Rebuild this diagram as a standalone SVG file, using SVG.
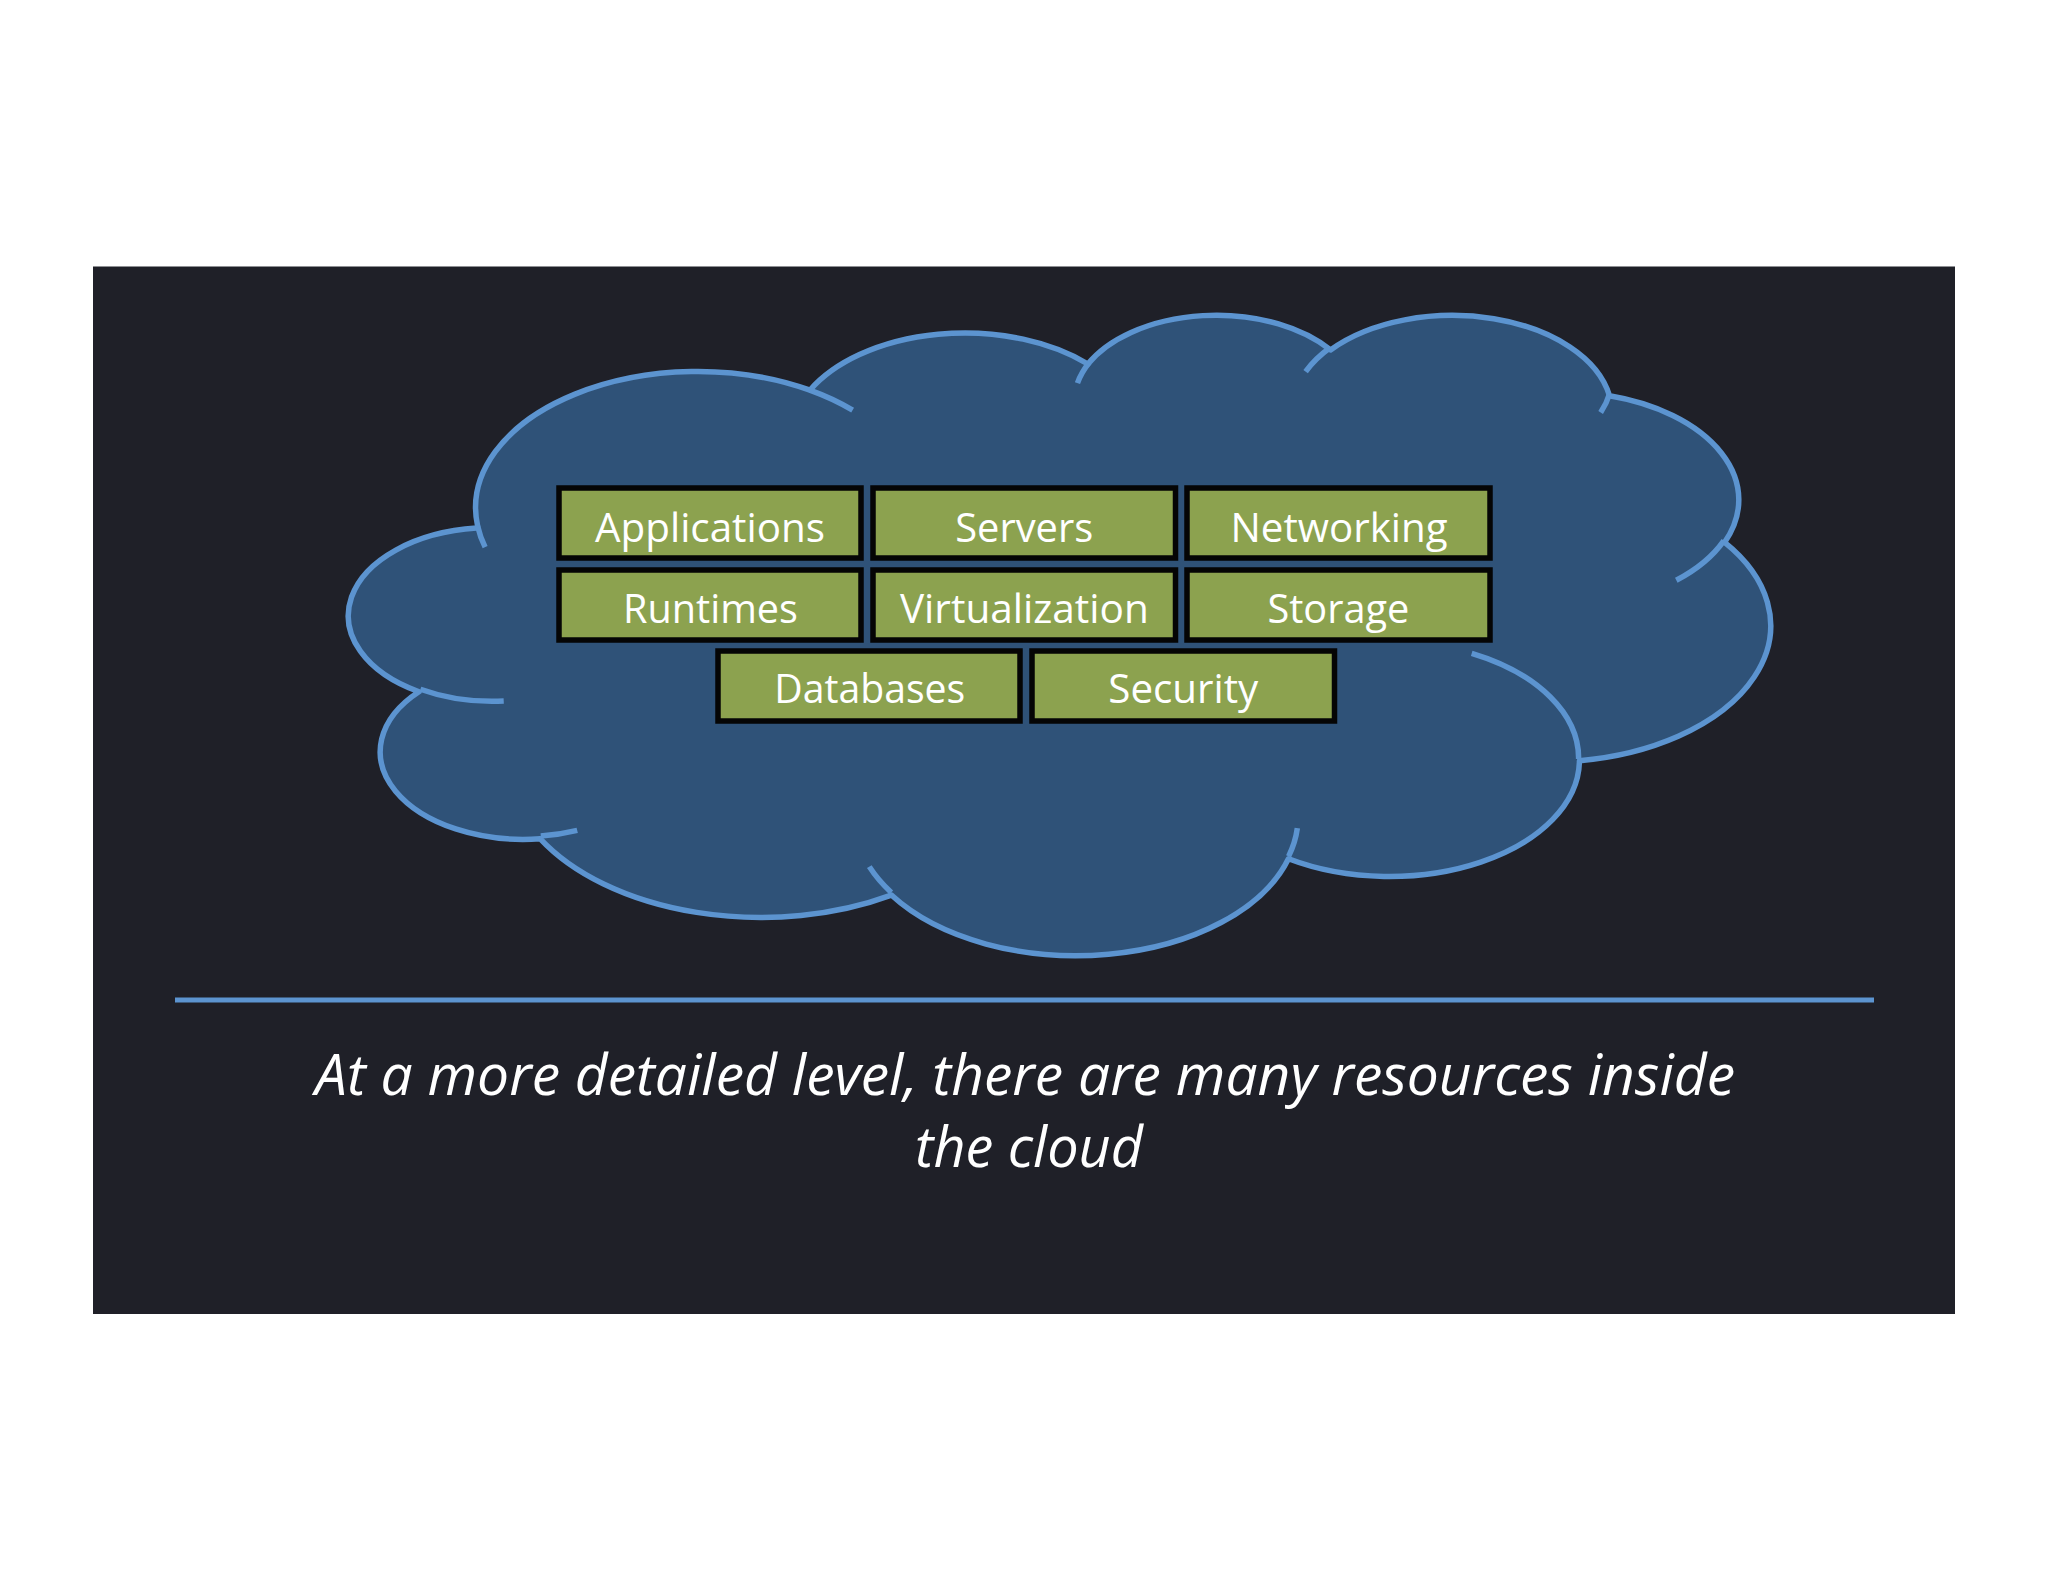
<svg xmlns="http://www.w3.org/2000/svg" width="2048" height="1582" viewBox="0 0 2048 1582">
  <style>
    .box rect { fill: #8CA24F; stroke: #050505; stroke-width: 5.5; }
    .box text { font-family: "Open Sans", "Lato", "Liberation Sans", sans-serif; font-size: 40px; fill: #FFFFFF; text-anchor: middle; }
    .cloudline { fill: none; stroke: #5C94D0; stroke-width: 5.5; stroke-linejoin: round; }
    .caption { font-family: "Open Sans", "Lato", "Liberation Sans", sans-serif; font-style: italic; font-size: 56px; fill: #FFFFFF; text-anchor: middle; }
  </style>
  <rect x="0" y="0" width="2048" height="1582" fill="#FFFFFF"/>
  <rect id="panel" x="93" y="266.5" width="1862" height="1047.5" fill="#1F2028"/>

  <g id="cloud" transform="translate(349.4,313.1) scale(0.032884,0.01482)">
    <path fill="#2F5278" stroke="#5C94D0" stroke-width="5.5" vector-effect="non-scaling-stroke" stroke-linejoin="round"
      d="M 3900 14370
         A 6753 9190 0 0 1 14004.7 5201.2
         A 5333 7267 0 0 1 22457.9 3434.5
         A 4365 5945 0 0 1 29835.4 2485.3
         A 4857 6595 0 0 1 38319.8 5581.9
         A 5333 7273 0 0 1 41820.2 15465.8
         A 6775 9220 0 0 1 37405.5 30207.5
         A 5785 7867 0 0 1 28556.8 36817.4
         A 6752 9215 0 0 1 16481.1 39269.1
         A 7720 10543 0 0 1 5804.8 35472.2
         A 4360 5918 0 0 1 2115.0 25548.6
         A 4345 5945 0 0 1 3865.6 14505.6 Z"/>
    <path class="cloudline" vector-effect="non-scaling-stroke"
      d="M 4693 26177 A 4345 5945 0 0 1 2159.1 25379.4
         M 6928 34899 A 4360 5918 0 0 1 5818.9 35280.8
         M 16478 39090 A 6752 9215 0 0 1 15810.3 37350.5
         M 28827 34751 A 6752 9215 0 0 1 28560.5 36659.3
         M 34129 22954 A 5785 7867 0 0 1 37380.1 30089.4
         M 41798 15354 A 5333 7273 0 0 1 40350.5 18029.3
         M 38324 5426 A 4857 6595 0 0 1 38051.1 6715.0
         M 29078 3952 A 4857 6595 0 0 1 29820.7 2338.2
         M 22141 4720 A 4365 5945 0 0 1 22500.5 3329.2
         M 14000 5192 A 6753 9190 0 0 1 15303.1 6544.5
         M 4127 15789 A 6753 9190 0 0 1 3900.1 14370.4"/>
  </g>

  <g id="connectors"></g>

  <g id="applications" class="box">
    <rect x="559" y="488" width="302" height="70"/>
    <text x="710" y="541.7" textLength="230" lengthAdjust="spacingAndGlyphs">Applications</text>
  </g>
  <g id="servers" class="box">
    <rect x="873" y="488" width="302.5" height="70"/>
    <text x="1024.2" y="541.7" textLength="138" lengthAdjust="spacingAndGlyphs">Servers</text>
  </g>
  <g id="networking" class="box">
    <rect x="1187" y="488" width="303" height="70"/>
    <text x="1339" y="541.7" textLength="217" lengthAdjust="spacingAndGlyphs">Networking</text>
  </g>
  <g id="runtimes" class="box">
    <rect x="559" y="570" width="302" height="70"/>
    <text x="710.5" y="623.3" textLength="175" lengthAdjust="spacingAndGlyphs">Runtimes</text>
  </g>
  <g id="virtualization" class="box">
    <rect x="873" y="570" width="302.5" height="70"/>
    <text x="1024.4" y="623.3" textLength="249" lengthAdjust="spacingAndGlyphs">Virtualization</text>
  </g>
  <g id="storage" class="box">
    <rect x="1187" y="570" width="303" height="70"/>
    <text x="1338.4" y="623.3" textLength="142" lengthAdjust="spacingAndGlyphs">Storage</text>
  </g>
  <g id="databases" class="box">
    <rect x="718" y="651" width="302" height="70"/>
    <text x="869.8" y="703.3" textLength="191" lengthAdjust="spacingAndGlyphs">Databases</text>
  </g>
  <g id="security" class="box">
    <rect x="1032" y="651" width="302.5" height="70"/>
    <text x="1183.3" y="703.3" textLength="150" lengthAdjust="spacingAndGlyphs">Security</text>
  </g>

  <line id="divider" x1="175" y1="1000" x2="1874" y2="1000" stroke="#5C94D0" stroke-width="5"/>

  <g id="caption">
    <text class="caption" x="1025" y="1095" textLength="1420" lengthAdjust="spacingAndGlyphs">At a more detailed level, there are many resources inside</text>
    <text class="caption" x="1029" y="1166.7" textLength="228" lengthAdjust="spacingAndGlyphs">the cloud</text>
  </g>
</svg>
